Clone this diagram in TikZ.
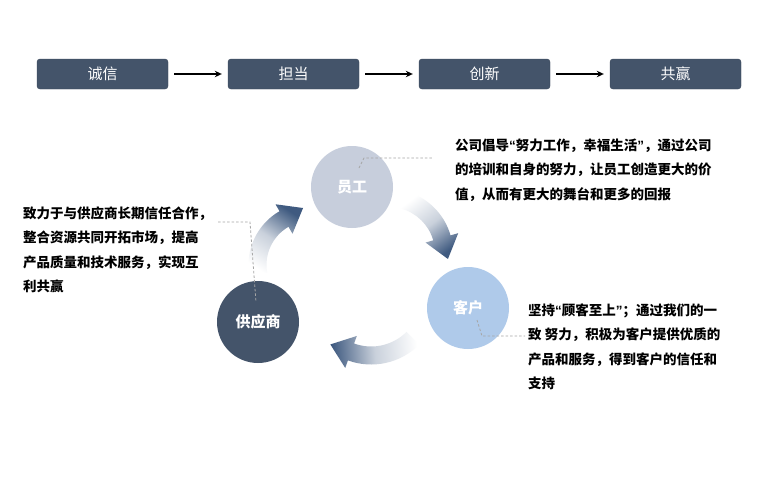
\documentclass[tikz,border=0pt]{standalone}
\usepackage{fontspec}
\newfontfamily\cjk{Noto Sans CJK SC}
\newfontfamily\qfont{Liberation Sans}
\newcommand\oq{{\qfont\bfseries“}}
\newcommand\cq{{\qfont\bfseries”}}
\usetikzlibrary{arrows.meta,calc}
\definecolor{slate}{HTML}{44546A}
\definecolor{empc}{HTML}{C7CEDC}
\definecolor{custc}{HTML}{AFCAEA}
\definecolor{arrc}{HTML}{3F5A80}
\definecolor{dashc}{HTML}{A6A6A6}
% #1,#2 centre; #3 radius; #4 tail angle; #5 head-base angle; #6 shading angle
\newcommand\gradarrow[6]{%
  \shade[top color=arrc, bottom color=white, middle color=arrc!28!white, shading angle=#6]
    ($(#1,#2)+(#4:#3+9)$) arc[start angle=#4, end angle=#5, radius=#3+9]
    -- ($(#1,#2)+(#5:#3+17)$)
    -- ($(#1,#2)+(#5:#3)+(#5-90:22)$)
    -- ($(#1,#2)+(#5:#3-17)$)
    -- ($(#1,#2)+(#5:#3-9)$)
    arc[start angle=#5, end angle=#4, radius=#3-9]
    -- cycle;}
\begin{document}
\begin{tikzpicture}[x=1pt,y=1pt,
  topbox/.style={draw=slate!85!black, fill=slate, rounded corners=3pt, minimum width=131pt, minimum height=30pt, inner sep=0pt, text=white, font=\cjk\fontsize{15}{18}\selectfont},
  flow/.style={line width=1.3pt, -{Stealth[length=7pt,width=6.5pt]}},
  ball/.style={circle, minimum size=82pt, inner sep=0pt, text=white, font=\cjk\bfseries\fontsize{15}{18}\selectfont},
  desc/.style={anchor=north west, inner sep=0pt, align=left, font=\cjk\bfseries\fontsize{13.5}{24.5}\selectfont, text=black},
  leader/.style={dashc, line width=0.8pt, dash pattern=on 2.5pt off 2pt},
]
\useasboundingbox[fill=white] (0,0) rectangle (760,-501);

% top flow
\node[topbox] (b1) at (102.5,-74) {诚信};
\node[topbox] (b2) at (293.5,-74) {担当};
\node[topbox] (b3) at (484.5,-74) {创新};
\node[topbox] (b4) at (675.5,-74) {共赢};
\draw[flow] ([xshift=6pt]b1.east) -- ([xshift=-6pt]b2.west);
\draw[flow] ([xshift=6pt]b2.east) -- ([xshift=-6pt]b3.west);
\draw[flow] ([xshift=6pt]b3.east) -- ([xshift=-6pt]b4.west);

% curved gradient arrows
\gradarrow{310.5}{-264.9}{53}{190}{120}{-34}
\gradarrow{389}{-253}{55}{75}{16}{-143}
\gradarrow{371.2}{-296.5}{59}{-45}{-110}{94}

% circles
\node[ball, fill=empc] (emp) at (352,-187) {员工};
\node[ball, fill=custc] (cust) at (468,-308) {客户};
\node[ball, fill=slate] (sup) at (258,-322) {供应商};

% texts
\node[desc] (tr) at (455,-138.3) {公司倡导\oq 努力工作，幸福生活\cq，通过公司\\的培训和自身的努力，让员工创造更大的价\\值，从而有更大的舞台和更多的回报};
\node[desc] (lt) at (23,-206.3) {致力于与供应商长期信任合作，\\整合资源共同开拓市场，提高\\产品质量和技术服务，实现互\\利共赢};
\node[desc] (br) at (528,-303.3) {坚持\oq 顾客至上\cq；通过我们的一\\致 努力，积极为客户提供优质的\\产品和服务，得到客户的信任和\\支持};

% leader lines
\coordinate (e1) at (359,-168);
\coordinate (e2) at (364,-158);
\coordinate (e3) at (432,-158);
\draw[leader] (e1) -- (e2) -- (e3);
\coordinate (s0) at (218,-222);
\coordinate (s1) at (250,-222);
\coordinate (s2) at (256,-302);
\draw[leader] (s0) -- (s1) -- (s2);
\coordinate (c1) at (477,-320);
\coordinate (c2) at (482,-336);
\coordinate (c3) at (525,-336);
\draw[leader] (c1) -- (c2) -- (c3);
\end{tikzpicture}
\end{document}
